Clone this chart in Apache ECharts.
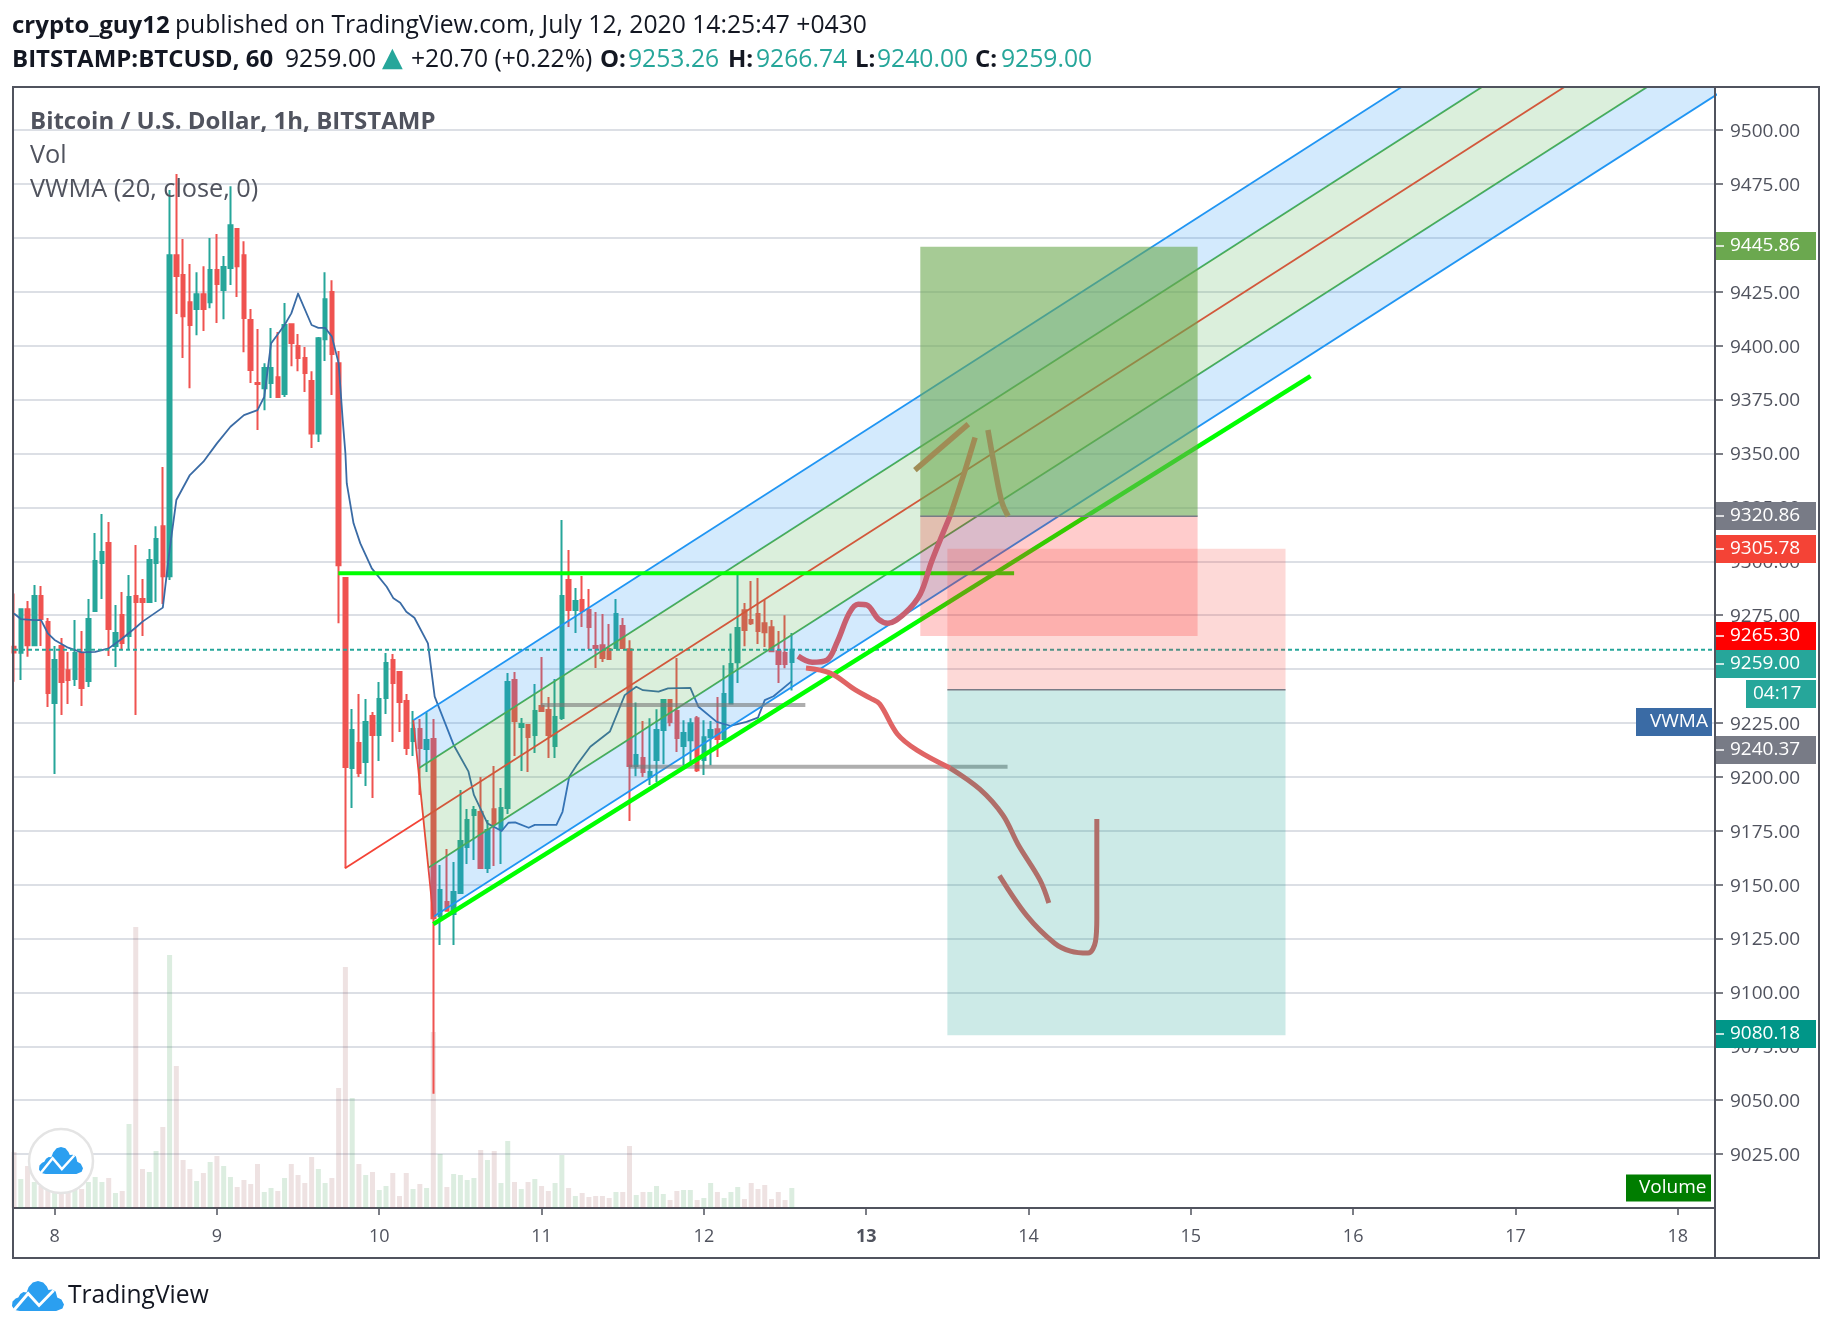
<!DOCTYPE html>
<html><head><meta charset="utf-8">
<style>html,body{margin:0;padding:0;background:#fff}#c{width:1832px;height:1332px}</style>
<script src="https://cdn.jsdelivr.net/npm/echarts@6/dist/echarts.min.js"></script>
</head><body><div id="c"></div>
<script>
// ---- data (x in hours since July 8 00:00, y in USD) ----
const hours=[-6,-5,-4,-3,-2,-1,0,1,2,3,4,5,6,7,8,9,10,11,12,13,14,15,16,17,18,19,20,21,22,23,
24,25,26,27,28,29,30,31,32,33,34,35,36,37,38,39,40,41,42,43,44,45,46,47,
48,49,50,51,52,53,54,55,56,57,58,59,60,61,62,63,64,65,66,67,68,69,70,71,
72,73,74,75,76,77,78,79,80,81,82,83,84,85,86,87,88,89,90,91,92,93,94,95,
96,97,98,99,100,101,102,103,104,105,106,107,108,109];
const opens=[9260.4,9257.6,9277.8,9261.1,9283.9,9271.8,9234.2,9260.7,9249.5,9245.4,9257.4,9244.5,9276.9,9299.2,9308.5,9260.7,9275.1,9265.3,9283.9,9282.5,9281.1,9299.2,9316.3,9293.1,
9442,9432.8,9420.2,9417,9423.9,9420.2,9435.1,9425.8,9436,9454.1,9442,9411.9,9382.7,9380.3,9382.7,9385.4,9377.6,9410,9399.8,9394.3,9383.6,9359.3,9403,9424.9,
9391.9,9292.2,9204.1,9215.7,9206.9,9228.2,9219.4,9236.6,9254.2,9248.6,9235.2,9216.6,9222.2,9212.9,9217.6,9135.5,9142,9136.4,9146.1,9167.5,9182.3,9183.7,9157.7,9185,
9175.8,9185.5,9244.9,9223.1,9224,9219.4,9232.9,9231,9214.3,9227.3,9291.3,9277.4,9282,9277.4,9260.7,9261.1,9259.3,9259.8,9270,9259.2,9205,9208.7,9199.9,9207.8,
9221.7,9235.6,9230.5,9214.3,9217,9227.2,9207.8,9218.4,9222.1,9217.5,9234,9253.2,9277.3,9272.7,9275.5,9271.3,9269.4,9258.3,9257.4,9253.26];
const closes=[9257.7,9277.8,9261.1,9283.9,9273.2,9238.9,9254.2,9244,9244.9,9257.4,9241.2,9273.2,9300.1,9304.3,9268.6,9266.7,9262.1,9283.4,9281.1,9281.1,9300.6,9310.3,9293.1,9442,
9432.3,9413.7,9409.6,9423.9,9417,9435.1,9428.6,9436.5,9455.9,9436.9,9412.8,9388.7,9382.2,9389.6,9389.6,9376.2,9409.6,9401.2,9394.3,9387.3,9359.3,9403.5,9421.6,9396.1,
9298.2,9204.6,9221.7,9201.8,9225.4,9219.4,9236.1,9252.8,9243.5,9234.7,9213.4,9222.2,9213.4,9217.1,9134.4,9147.5,9137.9,9146.6,9170.2,9180,9184.6,9157.7,9175.3,9178.1,
9185.5,9244,9225.9,9224.5,9218.5,9230.5,9230.5,9219.4,9227.8,9283.9,9277.4,9281.6,9276.9,9269.5,9259.8,9255.1,9254.7,9275.5,9259.8,9205,9210.1,9202.2,9202.2,9221.7,
9235.6,9225.4,9218,9220.3,9224.9,9203.1,9218.4,9221.7,9217.5,9238.4,9252.3,9269,9268.1,9271.3,9267.6,9267.1,9258.3,9252.3,9252.3,9259];
const highs=[9285.1,9277.8,9281.6,9289,9288.5,9273.7,9260.7,9264.4,9257.9,9272.7,9267.6,9282.5,9313.1,9321.9,9318.2,9279.7,9285.7,9293.6,9307.5,9291.8,9305.7,9316.3,9343.7,9472.2,
9479.6,9449.5,9437.9,9434.1,9436.9,9449.9,9451.8,9441.6,9474,9454.1,9448.5,9417,9407.7,9391.9,9408.2,9406.3,9419.8,9410,9405.4,9399.4,9388.2,9404,9434.1,9430.4,
9397.5,9292.2,9231.5,9238.4,9236.1,9230.1,9244,9257.4,9257,9248.6,9238.4,9230.5,9226.8,9230,9226.8,9159.1,9166.5,9160.5,9193.9,9185.1,9186.5,9199.9,9180,9205,
9194.8,9248.2,9248.6,9227.3,9224,9243.1,9255.6,9237,9245.4,9319.1,9305.2,9287.6,9293.2,9287.1,9276.5,9275.5,9270.9,9282.5,9273.7,9263.4,9234.5,9225.9,9227.2,9231.4,
9236.1,9235.6,9255.1,9226.3,9227.2,9228.2,9226.3,9225.9,9237,9251.8,9266.5,9293.6,9280.6,9290.8,9292.2,9282,9272.7,9267.6,9275,9266.74];
const lows=[9244.1,9244.9,9255.7,9261.1,9260.7,9232.4,9201.3,9228.7,9233.8,9242.1,9232.9,9241.7,9276.9,9282.5,9256,9250.9,9258.8,9258.8,9228.7,9265.3,9281.1,9281.1,9280.2,9291.3,
9414.7,9394.3,9380.3,9404.9,9406.8,9417.4,9410.5,9412.3,9428.1,9422.6,9397,9382.7,9360.9,9370.1,9375.7,9375.7,9376.2,9390.5,9388.2,9378.5,9352.5,9355.3,9392.9,9377.1,
9271.3,9157.6,9185.5,9199.9,9195.7,9190.2,9207.3,9229.1,9216.2,9220.8,9210.1,9209.7,9191.6,9202.2,9053,9122,9137.9,9122,9146.1,9159.6,9161.4,9157.7,9155.4,9158.6,
9159.6,9182.8,9209.7,9202.7,9202.2,9211.1,9230.1,9208.7,9208.7,9226.4,9269.5,9266.7,9269.5,9259.3,9250.5,9253.3,9254.2,9259.8,9259.3,9179.5,9200.3,9199.9,9196.2,9197.6,
9205.9,9223.5,9211.5,9205.4,9205.4,9202.2,9200.8,9205.4,9209.2,9217,9234,9243.5,9260.6,9270.4,9261.6,9260.2,9257.9,9243.5,9250.4,9240];
const volumes=[56,29,42,26,22,22,22,19,16,19,19,26,31,26,30,15,17,84,281,39,36,57,81,253,
142,48,39,27,35,46,52,42,31,21,28,24,44,16,20,17,30,44,33,25,51,39,25,30,
120,241,110,44,33,36,18,22,35,12,35,19,24,20,176,54,21,34,33,28,30,58,48,57,
25,67,26,19,26,29,22,17,25,53,20,12,15,11,12,12,10,16,16,62,13,16,16,22,
14,8,17,18,18,8,10,25,16,10,16,21,9,25,19,23,9,16,8,20];
const vwma=[[-6,9275.8],[-5,9273.2],[-3,9272.7],[-2,9272.7],[-1,9266.6],[0,9263.5],[2,9259.9],[4,9257.7],[6,9258],[8,9259.6],[10,9264.2],[12,9269.3],[13,9272],[16,9278.5],[17,9305.2],[18,9328.4],[20,9340],[22,9346.2],[24,9354.7],[26,9362.4],[28,9367.8],[30,9370.1],[31,9376.3],[32,9401],[34,9409.6],[35,9415],[36,9424.2],[38,9409.6],[39,9408.3],[40,9408.3],[41,9404.2],[42,9391.8],[42.6,9365.5],[43,9350],[43.2,9336.1],[44.2,9317.6],[45.2,9308.3],[46.9,9296.7],[49.1,9288.2],[50.1,9282.8],[51.1,9280.8],[52,9276.6],[53.2,9273.8],[55.2,9261.9],[56.2,9237.2],[59,9214.8],[61.2,9202.4],[62,9191.6],[64,9178.4],[66.1,9174.9],[67.1,9178.7],[68.1,9178.9],[70.1,9176.4],[71,9177.7],[74.2,9177.7],[75.1,9183.8],[76.1,9200.1],[77.2,9205.5],[79.2,9214],[82.1,9221],[83.4,9231],[84.3,9237.9],[86,9241.8],[87,9240.2],[89.3,9239.5],[90.7,9241],[94,9241.3],[95.2,9232.5],[97.9,9225.5],[99.9,9223.7],[102.3,9225.5],[104,9227.5],[105,9235.6],[106.3,9237.4],[109,9244.4]];
const dayTicks=[0,24,48,72,96,120,144,168,192,216,240];
const dayLabels=['8','9','10','11','12','13','14','15','16','17','18'];
const priceCurrent=9259;
// channel lines: [start, far end]
const chanTop=[[53.04,9226.3],[250,9622.2]];
const chanUpGreen=[[53.78,9203.9],[250,9598.3]];
const chanMid=[[42.94,9157.6],[250,9573.8]];
const chanLowGreen=[[55.26,9157.8],[250,9549.2]];
const chanBottom=[[56,9135.1],[250,9525]];
const chanBase=[[53.04,9226.3],[56,9135.1]];
const chanBandUpper=[[53.04,9226.3],[250,9622.2],[250,9598.3],[53.78,9203.9]];
const chanBandMiddle=[[53.78,9203.9],[250,9598.3],[250,9549.2],[55.26,9157.8]];
const chanBandLower=[[55.26,9157.8],[250,9549.2],[250,9525],[56,9135.1]];
// position boxes
const longProfit=[[128,9445.86],[169,9445.86],[169,9320.86],[128,9320.86]];
const longStop=[[128,9320.86],[169,9320.86],[169,9265.3],[128,9265.3]];
const shortStop=[[132,9305.78],[182,9305.78],[182,9240.37],[132,9240.37]];
const shortProfit=[[132,9240.37],[182,9240.37],[182,9080.18],[132,9080.18]];
const longEntry=[[128,9320.86],[169,9320.86]];
const shortEntry=[[132,9240.37],[182,9240.37]];
// trend lines
const greenLevel=[[41.95,9294.5],[141.87,9294.5]];
const greenSupport=[[56,9131.7],[185.7,9385.9]];
const greyLevelUp=[[71.9,9233.3],[111,9233.3]];
const greyLevelLow=[[84.9,9204.7],[140.9,9204.7]];
// hand-drawn brush strokes
const strokeUpLower=[[109.93,9256],[112,9253.2],[114.2,9254.2],[115.7,9262.5],[117.5,9276],[118.8,9280.1],[120.1,9279.7],[121.8,9273.2],[123.2,9271.3],[125.75,9276],[128,9284.8],[129.7,9300.1],[132.4,9321]];
const strokeUpUpper=[[132.4,9321],[134.4,9340],[136.1,9357.4]];
const strokeTick=[[127.2,9342.3],[135.1,9363.6]];
const strokeBack=[[138,9360.9],[139.1,9341.8],[140.1,9327],[141,9320.9]];
const strokeDownWhite=[[111.1,9250.5],[114.7,9248.1],[118.4,9240.3],[120.6,9236.5],[122,9233.8],[124.6,9219.9],[127.5,9212.4],[132.4,9204.1]];
const strokeDownTeal=[[132.4,9204.1],[136.8,9194.3],[140.2,9182.3],[142.5,9168.4],[145.7,9152.1],[147,9141.5]];
const strokeHook=[[139.7,9154.2],[143.8,9135.4],[147.9,9122.7],[150.2,9119.2],[152.8,9118.3],[153.9,9123.6],[154.1,9134.5],[154.1,9180.4]];
// price tags: text, colour
const tagTexts=['9445.86','9320.86','9305.78','9265.30','9259.00','9240.37','9080.18'];
const tagColors=['#6ba84f','#787b86','#f44336','#ff0000','#26a69a','#787b86','#009688'];
const tagCentres=[246,516,549,636,664,750,1034];
const cloudOutline=[[15,60],[5,58],[0,50],[1,41],[7,35],[12,33],[16,26],[22,22],[28,23],[32,12],[40,3],[50,0],[60,3],[67,11],[70,18],[77,17],[84,21],[87,33],[95,37],[100,47],[97,55],[85,60]];
const cloudRidge=[[4,58],[31,25],[52,49],[80,19]];

// ---- chart ----
const FONT='"Open Sans"';
const INK='#50535e';
const chart=echarts.init(document.getElementById('c'),null,{renderer:'canvas'});
function poly(points,fill,z){
  return {type:'custom',xAxisIndex:0,yAxisIndex:0,z:z,clip:true,silent:true,animation:false,
    data:points,encode:{x:0,y:1},
    renderItem(params,api){
      if(params.dataIndex!==0)return null;
      return {type:'polygon',shape:{points:points.map(p=>api.coord(p))},style:{fill:fill,stroke:null}};
    }};
}
function seg(points,color,width,z,extra){
  return Object.assign({type:'line',xAxisIndex:0,yAxisIndex:0,data:points,showSymbol:false,symbol:'none',z:z,silent:true,
    clip:true,animation:false,lineStyle:{color:color,width:width,cap:'butt',join:'round'}},extra||{});
}
const SMOOTH={smooth:0.35};
const candleData=hours.map((h,i)=>[h,opens[i],closes[i],lows[i],highs[i]]);
const volData=hours.map((h,i)=>({value:[h,volumes[i]],itemStyle:{color:closes[i]>=opens[i]?'rgba(40,140,60,0.16)':'rgba(140,60,60,0.15)'}}));
const series=[
  {type:'bar',xAxisIndex:0,yAxisIndex:1,data:volData,barWidth:5,z:1,silent:true,animation:false},
  {type:'candlestick',xAxisIndex:0,yAxisIndex:0,data:candleData,encode:{x:0,y:[1,2,3,4]},barWidth:4,z:2,silent:true,animation:false,
    itemStyle:{color:'#26a69a',color0:'#ef5350',borderColor:'#26a69a',borderColor0:'#ef5350',borderWidth:2}},
  seg(vwma,'#3a6ba5',1.8,3),
  seg([[hours[0],priceCurrent],[245.5,priceCurrent]],'#26a69a',2,3,{lineStyle:{color:'#26a69a',width:2,type:[4,3]}}),
  seg(chanTop,'#2196f3',1.8,4),
  seg(chanUpGreen,'#4caf50',1.8,4),
  seg(chanMid,'#f44336',1.8,4),
  seg(chanLowGreen,'#4caf50',1.8,4),
  seg(chanBottom,'#2196f3',1.8,4),
  seg(chanBase,'#f44336',1.8,4),
  poly(chanBandUpper,'rgba(33,150,243,0.2)',5),
  poly(chanBandMiddle,'rgba(76,175,80,0.2)',5),
  poly(chanBandLower,'rgba(33,150,243,0.2)',5),
  seg(greyLevelUp,'rgba(120,120,120,0.6)',4,6),
  seg(greyLevelLow,'rgba(120,120,120,0.6)',4,6),
  seg(greenLevel,'#00ff00',4,6),
  seg(greenSupport,'#00ff00',4.5,6),
  poly(longProfit,'rgba(107,168,79,0.6)',7),
  poly(longStop,'rgba(255,0,0,0.2)',7),
  poly(shortStop,'rgba(244,67,54,0.2)',7),
  poly(shortProfit,'rgba(0,150,136,0.2)',7),
  seg(longEntry,'#787b86',1.5,8),
  seg(shortEntry,'#787b86',1.5,8),
  seg(strokeUpLower,'#c85f70',5.5,9,SMOOTH),
  seg(strokeUpUpper,'#a08c55',5.5,9,SMOOTH),
  seg(strokeTick,'#a08c55',5.5,9),
  seg(strokeBack,'#98905a',5.5,9,SMOOTH),
  seg(strokeDownWhite,'#e06464',5,9,SMOOTH),
  seg(strokeDownTeal,'#b06e69',5,9,SMOOTH),
  seg(strokeHook,'#b06e69',5,9,SMOOTH)
];
const option={
  animation:false,backgroundColor:'#fff',
  grid:{left:13,right:117,top:87,bottom:124,containLabel:false,show:false},
  xAxis:{type:'value',min:-6.15,max:245.5,splitLine:{show:false},
    axisLine:{show:true,onZero:false,lineStyle:{color:INK,width:2}},
    axisTick:{show:true,length:7,customValues:dayTicks,lineStyle:{color:INK,width:1.5}},
    axisLabel:{show:true,customValues:dayTicks,margin:20,fontFamily:FONT,fontSize:18,color:INK,
      formatter:v=>{const t=dayLabels[dayTicks.indexOf(v)];return t==='13'?'{b|13}':t;},
      rich:{b:{fontFamily:FONT,fontSize:18,fontWeight:'bold',color:INK}}}},
  yAxis:[{type:'value',position:'right',min:9000,max:9520,interval:25,
      splitLine:{show:true,lineStyle:{color:'#d1d4dc',width:1.7}},
      axisLine:{show:true,onZero:false,lineStyle:{color:INK,width:2}},
      axisTick:{show:true,length:8,lineStyle:{color:INK,width:1.5}},
      axisLabel:{show:true,margin:15,fontFamily:FONT,fontSize:19,color:INK,showMinLabel:false,showMaxLabel:false,
        formatter:v=>'{a|'+v.toFixed(2)+'}',
        rich:{a:{fontFamily:FONT,fontSize:19,color:INK,padding:[3,0,0,0]}}}},
    {type:'value',position:'left',min:0,max:1121,show:false,axisLine:{onZero:false},splitLine:{show:false}}],
  series:series,
  graphic:{elements:buildGraphics()}
};
function tag(x,y,w,h,fill,text,tx,withDash){
  const out=[{type:'rect',z:100,silent:true,shape:{x:x,y:y-h/2,width:w,height:h},style:{fill:fill}},
   {type:'text',z:101,silent:true,x:tx,y:y,style:{text:text,fill:'#fff',font:'19px '+FONT,verticalAlign:'middle',textAlign:'left'}}];
  if(withDash)out.push({type:'rect',z:101,silent:true,shape:{x:x,y:y-0.75,width:8,height:1.5},style:{fill:'#fff'}});
  return out;
}
function cloud(x,y,w,h,z){
  const map=p=>[x+p[0]*w/100,y+p[1]*h/60];
  return [{type:'polygon',z:z,silent:true,shape:{points:cloudOutline.map(map)},style:{fill:'#2b9ff0'}},
    {type:'polyline',z:z+1,silent:true,shape:{points:cloudRidge.map(map)},style:{stroke:'#fff',lineWidth:w/18,fill:null}}];
}
function txt(x,y,text,font,fill){
  return {type:'text',z:100,silent:true,x:x,y:y,style:{text:text,fill:fill,font:font,verticalAlign:'middle'}};
}
function buildGraphics(){
  const g=[];
  // frame
  g.push({type:'rect',z:90,silent:true,shape:{x:13,y:87,width:1806,height:1171},style:{fill:null,stroke:INK,lineWidth:2}});
  g.push({type:'line',z:90,silent:true,shape:{x1:1715,y1:87,x2:1715,y2:1258},style:{stroke:INK,lineWidth:2}});
  // header
  const ink='#131722', teal='#26a69a';
  const B='bold 24px '+FONT, R='24.7px '+FONT, V='24.7px '+FONT;
  g.push(txt(12,26,'crypto_guy12',B,ink));
  g.push(txt(175,26,'published on TradingView.com, July 12, 2020 14:25:47 +0430',R,ink));
  g.push(txt(12,60,'BITSTAMP:BTCUSD, 60',B,ink));
  g.push(txt(285,60,'9259.00',V,ink));
  g.push(txt(382,59,'▲','27px "DejaVu Sans"',teal));
  g.push(txt(411,60,'+20.70 (+0.22%)',V,ink));
  g.push(txt(600,60,'O:',B,ink)); g.push(txt(628,60,'9253.26',V,teal));
  g.push(txt(728,60,'H:',B,ink)); g.push(txt(756,60,'9266.74',V,teal));
  g.push(txt(855,60,'L:',B,ink)); g.push(txt(877,60,'9240.00',V,teal));
  g.push(txt(975,60,'C:',B,ink)); g.push(txt(1001,60,'9259.00',V,teal));
  // legends
  g.push(txt(30,122,'Bitcoin / U.S. Dollar, 1h, BITSTAMP','bold 24px '+FONT,INK));
  g.push(txt(30,156,'Vol','25.3px '+FONT,INK));
  g.push(txt(30,190,'VWMA (20, close, 0)','25.3px '+FONT,INK));
  // price tags
  tagTexts.forEach((t,i)=>{g.push(...tag(1716,tagCentres[i],100,28,tagColors[i],t,1730,true));});
  g.push(...tag(1746,694,70,28,'#26a69a','04:17',1753,false));
  g.push(...tag(1636,722,76,28,'#3a6ba5','VWMA',1650,false));
  g.push(...tag(1626,1188,85,27,'#007d00','Volume',1639,false));
  // round logo
  g.push({type:'circle',z:95,silent:true,shape:{cx:61,cy:1161,r:32},style:{fill:'#fff',stroke:'#e4e4e4',lineWidth:2.5}});
  g.push(...cloud(39,1147,44,27,96));
  // footer
  g.push(...cloud(12,1281,52,30,96));
  g.push(txt(68,1296,'TradingView','24.6px '+FONT,ink));
  return g;
}
chart.setOption(option);
</script></body></html>
